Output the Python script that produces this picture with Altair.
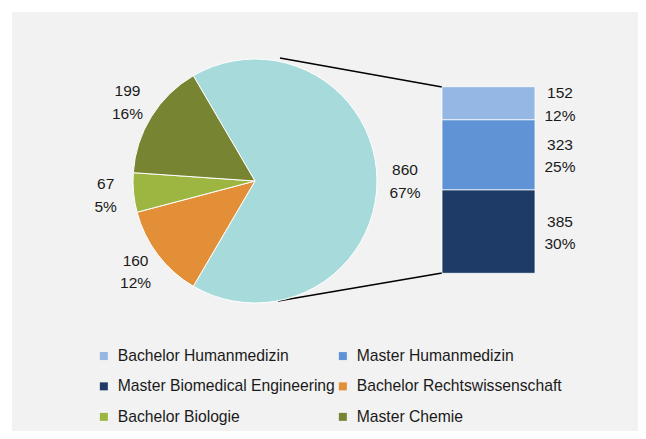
import math
import altair as alt
import pandas as pd

# ---- data ----
pie_names = ["Sonstige", "Bachelor Rechtswissenschaft", "Bachelor Biologie", "Master Chemie"]
pie_values = [860, 160, 67, 199]
pie_pcts = [67, 12, 5, 16]
bar_names = ["Master Biomedical Engineering", "Master Humanmedizin", "Bachelor Humanmedizin"]
bar_values = [385, 323, 152]
bar_pcts = [30, 25, 12]

legend_order = [
    "Bachelor Humanmedizin", "Master Humanmedizin",
    "Master Biomedical Engineering", "Bachelor Rechtswissenschaft",
    "Bachelor Biologie", "Master Chemie",
]
all_names = legend_order + ["Sonstige"]
colors = ["#95b7e3", "#5f93d5", "#1e3b67", "#e28f37", "#9db642", "#778533", "#a6dadb"]

total = sum(pie_values)

pie_df = pd.DataFrame({
    "name": pie_names, "value": pie_values,
    "ord": list(range(len(pie_names))),
    "label": [f"{v}\n{p}%" for v, p in zip(pie_values, pie_pcts)],
})
bar_df = pd.DataFrame({
    "name": bar_names, "value": bar_values,
    "ord": list(range(len(bar_names))),
    "label": [f"{v}\n{p}%" for v, p in zip(bar_values, bar_pcts)],
})

FONT = "Liberation Sans"
TXT = "#1a1a1a"

start = math.pi / 2 - math.pi * pie_values[0] / total
theta_scale = alt.Scale(domain=[0, total], range=[start, start + 2 * math.pi])
y_scale = alt.Scale(domain=[0, sum(bar_values)], range=[261.3, 74.7])

color = alt.Color(
    "name:N",
    scale=alt.Scale(domain=all_names, range=colors),
    title=None,
    legend=alt.Legend(
        orient="none", legendX=84, legendY=336, columns=2, direction="horizontal",
        values=legend_order, symbolType="square", symbolSize=64,
        symbolStrokeWidth=0, labelFont=FONT, labelFontSize=15.7,
        labelColor=TXT, labelOffset=6, rowPadding=13.5, columnPadding=0,
        padding=0, labelLimit=400,
    ),
)

CX, CY, R = 243, 169, 122

one = pd.DataFrame({"k": [0]})
line_top = alt.Chart(one).mark_rule(color="black", strokeWidth=1.5).encode(
    x=alt.value(268), y=alt.value(46), x2=alt.value(430), y2=alt.value(75))
line_bot = alt.Chart(one).mark_rule(color="black", strokeWidth=1.5).encode(
    x=alt.value(266), y=alt.value(289), x2=alt.value(430), y2=alt.value(261))

pie = alt.Chart(pie_df).mark_arc(radius=R, stroke="white", strokeWidth=1).encode(
    theta=alt.Theta("value:Q", stack=True, scale=theta_scale),
    order=alt.Order("ord:Q"),
    color=color,
    x=alt.value(CX), y=alt.value(CY),
)

pie_text = alt.Chart(pie_df).mark_text(
    radius=150, lineBreak="\n", font=FONT, fontSize=15.5, color=TXT,
    align="center", baseline="middle", lineHeight=22.5, dy=-11,
).encode(
    theta=alt.Theta("value:Q", stack=True, scale=theta_scale),
    order=alt.Order("ord:Q"),
    text="label:N",
    x=alt.value(CX), y=alt.value(CY),
)

bar_base = alt.Chart(bar_df).transform_window(
    cum="sum(value)", sort=[alt.SortField("ord")]
).transform_calculate(
    y0="datum.cum - datum.value",
    mid="datum.cum - datum.value / 2",
)

bar = bar_base.mark_bar(stroke="white", strokeWidth=0.75).encode(
    x=alt.value(430), x2=alt.value(523),
    y=alt.Y("y0:Q", scale=y_scale, axis=None),
    y2="cum:Q",
    color=color,
)

bar_text = bar_base.mark_text(
    lineBreak="\n", font=FONT, fontSize=15.5, color=TXT,
    align="center", baseline="middle", lineHeight=22.5, dy=-10,
).encode(
    x=alt.value(548),
    y=alt.Y("mid:Q", scale=y_scale, axis=None),
    text="label:N",
)

chart = alt.layer(line_top, line_bot, pie, pie_text, bar, bar_text).properties(
    width=626, height=419,
    padding={"left": 4, "top": 4, "right": 0, "bottom": 0},
    autosize=alt.AutoSizeParams(type="none"),
    background="white",
).configure_view(fill="#f2f2f2", strokeWidth=0)

chart.save("out.html", embed_options={"renderer": "svg", "actions": False})
